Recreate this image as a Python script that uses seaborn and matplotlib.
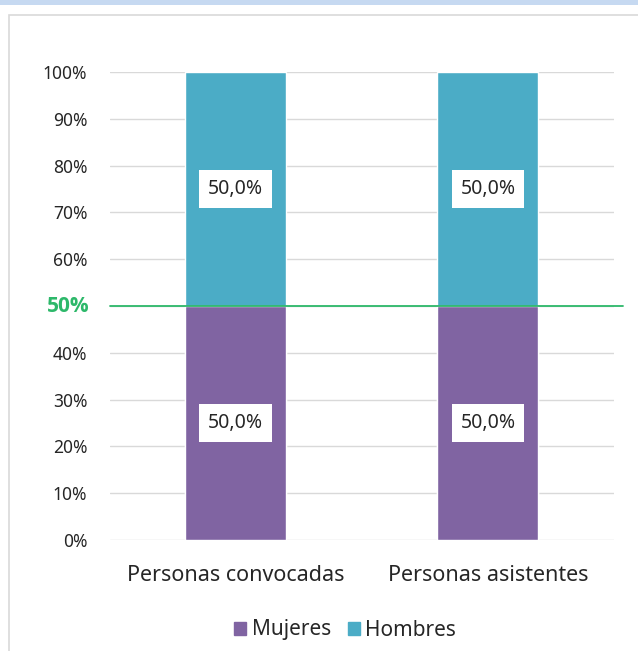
import matplotlib
matplotlib.use("Agg")
import matplotlib.pyplot as plt
import matplotlib.patches as mpatches
import seaborn as sns
import pandas as pd

# Data
categorias = ["Personas convocadas", "Personas asistentes"]
mujeres = [50.0, 50.0]
hombres = [50.0, 50.0]
series = ["Mujeres", "Hombres"]
colores = ["#8064A2", "#4BACC6"]
referencia = 50
y_ticks = [0, 10, 20, 30, 40, 50, 60, 70, 80, 90, 100]

sns.set_theme(style="white")
plt.rcParams["font.family"] = ["Noto Sans", "DejaVu Sans"]

df = pd.DataFrame({"categoria": categorias, "Mujeres": mujeres, "Hombres": hombres})
df["total"] = df["Mujeres"] + df["Hombres"]

fig = plt.figure(figsize=(6.38, 6.51), dpi=100)

# light blue strip at top + grey frame of the chart area
fig.patches.append(mpatches.Rectangle((0, 1 - 5 / 651), 1, 5 / 651, transform=fig.transFigure,
                                      facecolor="#C6D9F1", edgecolor="none"))
fig.patches.append(mpatches.Rectangle((9 / 638, -0.01), 1.0, 1 - 15 / 651 + 0.01,
                                      transform=fig.transFigure, facecolor="none",
                                      edgecolor="#D9D9D9", linewidth=1.2))

ax = fig.add_axes([109.5 / 638, 111 / 651, 504.5 / 638, 468 / 651])

# stacked bars: total (Hombres colour) then Mujeres on top of it
sns.barplot(data=df, x="categoria", y="total", color=colores[1], width=0.40,
            saturation=1, ax=ax, zorder=2)
sns.barplot(data=df, x="categoria", y="Mujeres", color=colores[0], width=0.40,
            saturation=1, ax=ax, zorder=3)

ax.set_ylim(0, 100)
ax.set_xlim(-0.5, 1.5)
ax.set_yticks(y_ticks)
ax.set_yticklabels([f"{t}%" if t != referencia else "" for t in y_ticks])
ax.yaxis.grid(True, color="#D9D9D9", linewidth=1, zorder=0)
ax.set_axisbelow(True)
ax.tick_params(axis="y", length=0, pad=16, labelsize=12.5, colors="#262626")
ax.tick_params(axis="x", length=0, pad=18, labelsize=15.5, colors="#262626")
ax.set_xlabel("")
ax.set_ylabel("")
for s in ax.spines.values():
    s.set_visible(False)

# 50% reference line and its green label
ax.plot([-0.5, 1.535], [referencia, referencia], color="#2DB86A", linewidth=1.3,
        clip_on=False, zorder=5)
ax.annotate(f"{referencia}%", xy=(0, referencia), xycoords=("axes fraction", "data"),
            xytext=(-14, 0), textcoords="offset points", ha="right", va="center",
            color="#2DB86A", fontsize=15, fontweight="bold", family=["Open Sans", "DejaVu Sans"])

# data labels in white boxes
for i in range(len(categorias)):
    ax.text(i, mujeres[i] / 2, f"{mujeres[i]:.1f}%".replace(".", ","), ha="center", va="center",
            fontsize=14, color="#262626", zorder=6,
            bbox=dict(boxstyle="square,pad=0.45", facecolor="white", edgecolor="none"))
    ax.text(i, mujeres[i] + hombres[i] / 2, f"{hombres[i]:.1f}%".replace(".", ","),
            ha="center", va="center", fontsize=14, color="#262626", zorder=6,
            bbox=dict(boxstyle="square,pad=0.45", facecolor="white", edgecolor="none"))

handles = [mpatches.Patch(color=c, label=s) for s, c in zip(series, colores)]
fig.legend(handles=handles, loc="center", bbox_to_anchor=(345 / 638, 1 - 630 / 651),
           ncol=2, frameon=False, fontsize=15, handlelength=0.6, handleheight=0.6,
           handletextpad=0.25, columnspacing=0.8)

fig.savefig("out.png", dpi=100)
